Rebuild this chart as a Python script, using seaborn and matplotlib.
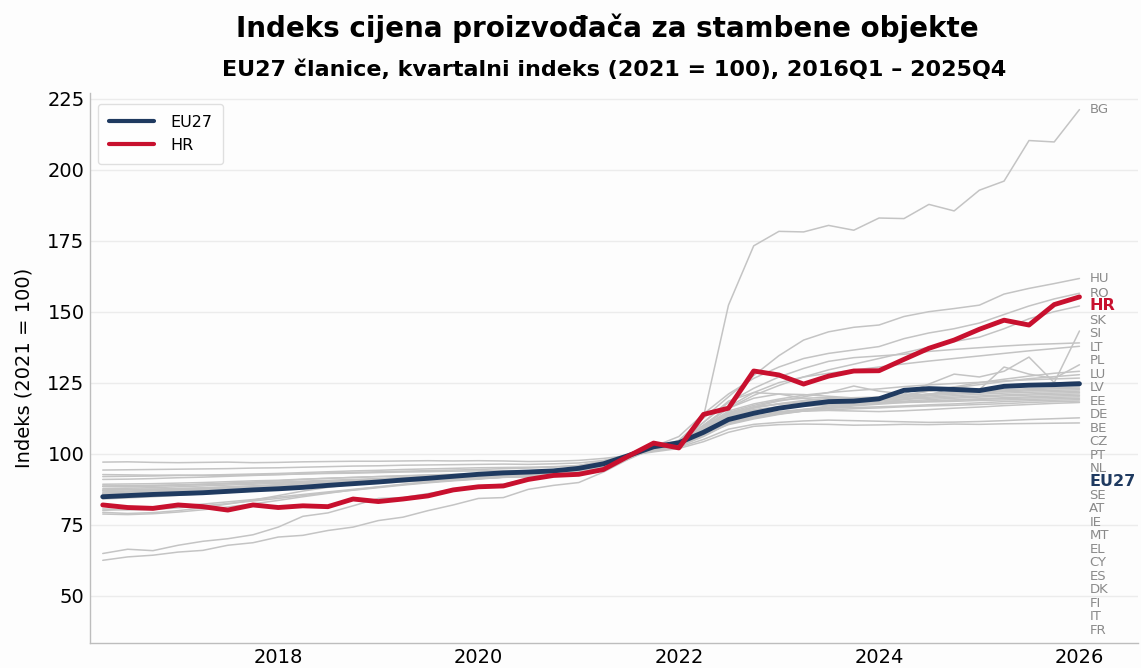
import numpy as np
import pandas as pd
import matplotlib
matplotlib.use("Agg")
import matplotlib.pyplot as plt
import matplotlib.dates as mdates
import seaborn as sns

# kvartali 2016Q1 - 2025Q4
quarters = pd.period_range("2016Q1", "2025Q4", freq="Q")

eu27 = [84.8, 85.2, 85.6, 85.9, 86.2, 86.7, 87.2, 87.6, 88.1, 88.8, 89.4, 90.0, 90.7, 91.3, 92.0, 92.7, 93.2, 93.5, 93.9, 94.8,
        96.4, 99.3, 102.4, 103.8, 107.5, 112.0, 114.2, 116.0, 117.2, 118.3, 118.5, 119.3, 122.3, 122.9, 122.6, 122.2, 123.7, 124.1, 124.3, 124.6]
hr = [81.9, 81.0, 80.7, 81.9, 81.3, 80.1, 81.9, 81.0, 81.6, 81.3, 84.0, 83.1, 84.0, 85.1, 87.2, 88.3, 88.6, 90.9, 92.3, 92.7,
      94.4, 99.1, 103.7, 102.0, 113.8, 116.0, 129.1, 127.7, 124.5, 127.3, 129.1, 129.2, 133.2, 137.1, 140.0, 143.8, 147.0, 145.3, 152.5, 155.2]

bg = [86.0, 86.2, 86.5, 86.7, 87.0, 87.3, 87.6, 88.0, 88.4, 88.8, 89.2, 89.6, 90.0, 90.4, 90.8, 91.2, 91.6, 92.0, 92.6, 93.6,
      95.8, 98.7, 101.6, 103.9, 113.0, 152.3, 173.2, 178.3, 178.1, 180.4, 178.7, 183.0, 182.8, 187.8, 185.5, 192.8, 196.0, 210.3, 209.8, 221.2]
hu = [64.8, 66.3, 65.8, 67.7, 69.1, 70.0, 71.4, 74.1, 77.9, 79.1, 81.6, 84.2, 84.5, 85.9, 87.4, 88.6, 89.2, 91.2, 92.7, 94.5,
      95.5, 98.0, 101.8, 104.7, 112.5, 120.0, 127.5, 134.5, 140.0, 142.9, 144.5, 145.3, 148.3, 150.0, 151.1, 152.3, 156.2, 158.2, 159.9, 161.7]
ro = [62.4, 63.6, 64.2, 65.3, 65.9, 67.7, 68.6, 70.6, 71.2, 72.9, 74.1, 76.4, 77.6, 79.9, 81.9, 84.2, 84.5, 87.4, 88.8, 89.8,
      93.5, 98.0, 102.5, 106.0, 114.0, 121.0, 126.5, 130.5, 133.5, 135.3, 136.5, 137.7, 140.5, 142.5, 144.0, 146.0, 149.0, 152.0, 154.5, 156.5]
sk = [87.0, 87.2, 87.4, 87.6, 87.9, 88.2, 88.5, 88.9, 89.3, 89.7, 90.1, 90.5, 90.9, 91.3, 91.7, 92.1, 92.4, 92.6, 93.0, 94.0,
      95.7, 98.7, 101.8, 103.8, 110.0, 116.0, 120.5, 124.0, 127.0, 129.5, 131.5, 133.5, 135.5, 137.5, 139.5, 141.0, 144.0, 147.5, 150.0, 152.0]
si = [88.4, 88.5, 88.7, 88.9, 89.1, 89.4, 89.7, 90.0, 90.3, 90.6, 90.9, 91.2, 91.5, 91.8, 92.1, 92.4, 92.6, 92.2, 92.9, 94.0,
      96.0, 98.8, 101.6, 103.6, 108.2, 113.5, 116.5, 118.5, 120.0, 121.5, 123.8, 122.0, 121.0, 124.5, 128.0, 127.0, 129.0, 134.0, 125.0, 143.2]
lt = [78.7, 78.5, 78.8, 79.4, 80.2, 81.2, 82.3, 83.5, 84.8, 86.0, 87.2, 88.2, 89.1, 89.9, 90.6, 91.2, 91.7, 92.0, 92.6, 93.6,
      95.0, 98.6, 102.0, 104.4, 111.0, 118.0, 123.0, 127.0, 130.0, 132.5, 133.8, 134.4, 135.0, 136.0, 136.7, 137.3, 137.9, 138.4, 138.7, 139.0]
pl = [85.1, 85.3, 85.5, 85.8, 86.2, 86.7, 87.3, 88.0, 88.8, 89.5, 90.2, 90.8, 91.3, 91.7, 92.0, 92.3, 92.5, 92.7, 93.0, 93.8,
      95.6, 98.5, 101.7, 104.2, 110.0, 116.5, 121.5, 125.0, 127.0, 128.3, 129.4, 130.5, 131.6, 132.6, 133.5, 134.4, 135.3, 136.2, 137.0, 137.8]
lu = [86.0, 86.4, 86.8, 87.2, 87.6, 88.0, 88.4, 88.8, 89.2, 89.6, 90.0, 90.4, 90.8, 91.2, 91.6, 92.0, 92.4, 92.8, 93.4, 94.4,
      96.2, 98.8, 101.6, 103.4, 107.5, 111.0, 113.0, 114.0, 115.0, 116.0, 117.0, 118.0, 119.0, 120.5, 123.5, 122.5, 130.5, 128.0, 126.5, 131.3]
lv = [79.3, 78.9, 79.2, 79.9, 80.9, 82.2, 83.6, 85.2, 86.8, 88.1, 89.2, 90.0, 90.5, 90.9, 91.2, 91.6, 92.0, 92.3, 92.8, 93.6,
      95.2, 98.8, 102.2, 103.8, 111.0, 118.5, 121.5, 121.0, 119.5, 118.0, 117.4, 118.5, 120.4, 122.1, 123.5, 125.0, 126.2, 127.3, 128.3, 129.0]
ee = [80.0, 80.3, 80.8, 81.5, 82.2, 83.0, 83.8, 84.7, 85.6, 86.5, 87.4, 88.3, 89.2, 90.0, 90.6, 91.2, 91.7, 92.0, 92.4, 93.3,
      95.4, 98.9, 102.0, 103.7, 109.8, 116.0, 119.5, 121.0, 120.8, 120.2, 119.6, 119.6, 120.7, 122.0, 123.2, 124.3, 125.4, 126.4, 127.1, 127.8]
de = [84.5, 84.9, 85.3, 85.7, 86.2, 86.7, 87.2, 87.8, 88.4, 89.1, 89.8, 90.4, 91.1, 91.7, 92.2, 92.7, 93.2, 93.6, 92.4, 93.2,
      95.5, 98.6, 101.9, 104.0, 109.5, 115.0, 117.5, 119.2, 120.6, 121.5, 122.2, 122.8, 123.6, 124.2, 124.7, 125.1, 125.6, 126.0, 126.3, 126.6]
be = [87.6, 87.8, 88.0, 88.3, 88.6, 88.9, 89.2, 89.5, 89.8, 90.1, 90.5, 90.8, 91.1, 91.4, 91.7, 92.0, 92.2, 91.6, 92.5, 93.7,
      95.8, 98.8, 101.8, 103.6, 109.0, 114.5, 117.0, 118.8, 119.5, 119.8, 119.2, 119.0, 119.8, 121.0, 121.8, 122.5, 123.2, 124.0, 124.8, 125.3]
cz = [80.5, 80.2, 80.3, 80.9, 81.6, 82.4, 83.3, 84.2, 85.2, 86.2, 87.1, 88.0, 88.9, 89.7, 90.4, 91.0, 91.7, 92.2, 92.9, 93.9,
      95.6, 98.7, 101.8, 103.9, 108.8, 114.0, 116.3, 117.5, 118.3, 118.8, 119.3, 119.8, 120.5, 121.0, 121.6, 122.0, 122.5, 122.9, 123.2, 123.5]
pt = [87.2, 87.4, 87.5, 87.7, 87.9, 88.2, 88.5, 88.8, 89.2, 89.6, 90.0, 90.3, 90.6, 90.9, 91.2, 91.5, 91.8, 92.0, 92.5, 93.6,
      95.8, 98.8, 102.0, 103.4, 108.5, 113.5, 116.0, 117.6, 118.7, 119.4, 119.7, 119.9, 120.3, 120.8, 121.3, 121.7, 122.1, 122.5, 122.8, 123.0]
nl = [84.0, 84.4, 84.8, 85.3, 85.8, 86.3, 86.8, 87.4, 88.0, 88.6, 89.2, 89.8, 90.4, 91.0, 91.6, 92.2, 92.8, 93.2, 93.6, 94.5,
      96.5, 98.9, 101.2, 103.4, 108.0, 112.6, 115.0, 116.4, 117.4, 118.1, 118.6, 119.2, 119.8, 120.4, 120.9, 121.4, 121.8, 122.1, 122.3, 122.5]
se = [85.5, 85.9, 86.3, 86.8, 87.3, 87.8, 88.3, 88.8, 89.3, 89.8, 90.3, 90.8, 91.3, 91.8, 92.3, 92.8, 93.3, 93.8, 94.3, 95.0,
      96.6, 99.1, 101.3, 103.0, 106.5, 110.5, 112.5, 114.0, 115.5, 116.8, 117.8, 118.6, 119.3, 119.9, 120.4, 120.9, 121.3, 121.6, 121.8, 122.0]
at = [86.5, 86.8, 87.1, 87.4, 87.8, 88.2, 88.6, 89.0, 89.5, 90.0, 90.5, 91.0, 91.5, 92.0, 92.4, 92.8, 93.1, 93.4, 93.9, 94.6,
      95.8, 98.6, 101.8, 103.8, 109.5, 114.2, 116.4, 117.4, 118.0, 118.3, 118.6, 118.8, 119.1, 119.5, 119.9, 120.3, 120.7, 121.0, 121.3, 121.5]
ie = [86.0, 86.3, 86.6, 86.9, 87.3, 87.7, 88.1, 88.6, 89.1, 89.6, 90.1, 90.5, 91.0, 91.4, 91.8, 92.2, 92.5, 92.3, 92.7, 93.8,
      95.9, 98.9, 101.7, 103.5, 107.8, 111.5, 113.2, 114.4, 115.5, 116.4, 117.3, 117.9, 118.5, 119.0, 119.5, 119.9, 120.3, 120.6, 120.8, 121.0]
mt = [88.6, 88.7, 88.8, 89.0, 89.2, 89.4, 89.6, 89.8, 90.0, 90.2, 90.5, 90.7, 91.0, 91.3, 91.6, 91.9, 92.2, 92.5, 92.9, 93.7,
      96.3, 99.1, 101.6, 103.0, 106.8, 110.2, 112.2, 113.8, 115.0, 116.0, 116.8, 117.4, 118.0, 118.5, 118.9, 119.3, 119.7, 120.0, 120.3, 120.5]
el = [92.6, 92.5, 92.4, 92.4, 92.3, 92.4, 92.5, 92.6, 92.8, 93.0, 93.1, 93.3, 93.5, 93.6, 93.8, 93.9, 94.0, 94.0, 94.3, 94.9,
      96.5, 98.8, 101.3, 103.4, 108.7, 113.0, 115.2, 116.0, 116.7, 117.1, 117.4, 117.8, 118.2, 118.5, 118.8, 119.1, 119.4, 119.6, 119.8, 120.0]
cy = [89.2, 89.3, 89.4, 89.6, 89.8, 90.1, 90.4, 90.6, 91.0, 91.3, 91.6, 91.9, 92.2, 92.5, 92.7, 92.9, 93.1, 93.3, 93.6, 94.4,
      96.4, 99.0, 101.3, 103.3, 108.2, 113.5, 115.5, 116.5, 117.0, 117.4, 117.6, 117.8, 118.0, 118.2, 118.4, 118.7, 118.9, 119.1, 119.3, 119.5]
es = [88.4, 88.3, 88.5, 88.8, 89.2, 89.6, 90.0, 90.4, 90.9, 91.3, 91.6, 91.9, 92.1, 92.3, 92.4, 92.6, 92.9, 92.5, 93.0, 94.2,
      96.6, 99.0, 101.3, 103.1, 107.5, 112.0, 114.0, 114.8, 115.6, 116.0, 116.2, 116.5, 116.8, 117.2, 117.5, 117.9, 118.3, 118.6, 118.8, 119.0]
dk = [90.9, 91.0, 91.2, 91.5, 91.7, 92.0, 92.3, 92.6, 92.9, 93.2, 93.4, 93.6, 93.8, 94.0, 94.2, 94.4, 94.7, 94.9, 95.2, 95.8,
      97.4, 99.1, 101.0, 102.5, 106.5, 110.8, 113.0, 114.5, 115.0, 115.4, 115.8, 116.1, 116.5, 116.8, 117.0, 117.3, 117.6, 118.0, 118.3, 118.5]
fi = [91.9, 92.0, 92.1, 92.3, 92.4, 92.6, 92.8, 93.0, 93.3, 93.6, 93.9, 94.1, 94.4, 94.6, 94.8, 95.0, 95.1, 95.2, 95.4, 95.8,
      97.2, 99.2, 101.1, 102.5, 106.0, 110.5, 113.0, 114.3, 115.0, 115.2, 115.0, 114.8, 115.1, 115.5, 116.0, 116.4, 116.9, 117.3, 117.7, 118.0]
it = [94.2, 94.3, 94.4, 94.5, 94.6, 94.7, 94.9, 95.0, 95.2, 95.4, 95.6, 95.7, 95.9, 96.0, 96.1, 96.2, 96.3, 96.2, 96.4, 96.7,
      97.6, 99.3, 100.9, 102.2, 105.0, 108.6, 110.3, 111.0, 111.5, 111.8, 111.6, 111.4, 111.2, 111.0, 111.1, 111.3, 111.6, 112.0, 112.3, 112.6]
fr = [97.0, 97.1, 96.9, 96.8, 96.9, 97.0, 96.8, 96.9, 97.1, 97.2, 97.3, 97.3, 97.4, 97.5, 97.4, 97.5, 97.4, 97.2, 97.3, 97.6,
      98.3, 99.3, 100.6, 101.8, 104.2, 107.5, 109.6, 110.2, 110.4, 110.3, 110.0, 110.1, 110.3, 110.2, 110.4, 110.3, 110.5, 110.6, 110.7, 110.8]

others = {"BG": bg, "HU": hu, "RO": ro, "SK": sk, "SI": si, "LT": lt, "PL": pl, "LU": lu, "LV": lv,
          "EE": ee, "DE": de, "BE": be, "CZ": cz, "PT": pt, "NL": nl, "SE": se, "AT": at, "IE": ie,
          "MT": mt, "EL": el, "CY": cy, "ES": es, "DK": dk, "FI": fi, "IT": it, "FR": fr}

# redoslijed oznaka s desne strane
label_order = ["BG", "HU", "RO", "HR", "SK", "SI", "LT", "PL", "LU", "LV", "EE", "DE", "BE", "CZ",
               "PT", "NL", "EU27", "SE", "AT", "IE", "MT", "EL", "CY", "ES", "DK", "FI", "IT", "FR"]

NAVY = "#1f3a60"
RED = "#c8102e"
GREY = "#c4c4c4"

dates = quarters.to_timestamp(how="end").normalize()
rows = []
for geo, vals in others.items():
    rows.append(pd.DataFrame({"date": dates, "value": vals, "geo": geo}))
grey_df = pd.concat(rows, ignore_index=True)
main_df = pd.concat([pd.DataFrame({"date": dates, "value": eu27, "geo": "EU27"}),
                     pd.DataFrame({"date": dates, "value": hr, "geo": "HR"})], ignore_index=True)

sns.set_theme(style="whitegrid")
plt.rcParams["font.family"] = ["DejaVu Sans"]
plt.rcParams["text.color"] = "black"
plt.rcParams["axes.labelcolor"] = "black"
plt.rcParams["xtick.color"] = "black"
plt.rcParams["ytick.color"] = "black"

fig = plt.figure(figsize=(11.41, 6.68), dpi=100, facecolor="#fdfdfd")
ax = fig.add_axes([0.079, 0.038, 0.918, 0.823])
ax.set_facecolor("#fdfdfd")

sns.lineplot(data=grey_df, x="date", y="value", units="geo", estimator=None,
             color=GREY, linewidth=1.1, ax=ax, legend=False)
sns.lineplot(data=main_df, x="date", y="value", hue="geo", palette={"EU27": NAVY, "HR": RED},
             linewidth=3.5, ax=ax)

ax.set_ylim(33.4, 227.1)
ax.set_xlim(pd.Timestamp("2016-02-14"), pd.Timestamp("2026-07-31"))
ax.set_yticks([50, 75, 100, 125, 150, 175, 200, 225])
ax.xaxis.set_major_locator(mdates.YearLocator(2))
ax.xaxis.set_major_formatter(mdates.DateFormatter("%Y"))
ax.tick_params(axis="both", labelsize=14, length=0, pad=4, colors="black")
ax.grid(axis="x", visible=False)
ax.grid(axis="y", color="#ececec", linewidth=1)
for s in ["top", "right"]:
    ax.spines[s].set_visible(False)
for s in ["left", "bottom"]:
    ax.spines[s].set_color("#bdbdbd")
    ax.spines[s].set_linewidth(1)
ax.set_xlabel("")
ax.set_ylabel("Indeks (2021 = 100)", fontsize=14, labelpad=10, color="black")

# oznake na kraju linija, razmaknute da se ne preklapaju
end_vals = {geo: vals[-1] for geo, vals in others.items()}
end_vals["EU27"] = eu27[-1]
end_vals["HR"] = hr[-1]
gap = 4.75
prev = np.inf
label_x = dates[-1] + pd.Timedelta(days=36)
for geo in label_order:
    y = min(end_vals[geo], prev - gap)
    prev = y
    if geo == "HR":
        ax.text(label_x, y + 0.3, geo, color=RED, fontsize=11.5, fontweight="bold", va="center", ha="left")
    elif geo == "EU27":
        ax.text(label_x, y, geo, color=NAVY, fontsize=11.5, fontweight="bold", va="center", ha="left")
    else:
        ax.text(label_x, y, geo, color="#8a8a8a", fontsize=9.5, va="center", ha="left")

leg = ax.legend(loc="upper left", fontsize=11.5, frameon=True, borderpad=0.7, handlelength=2.8,
                handletextpad=1.0, labelspacing=0.5, bbox_to_anchor=(0.0, 0.995))
leg.set_title(None)
for line in leg.get_lines():
    line.set_linewidth(3)
leg.get_frame().set_edgecolor("#d8d8d8")
leg.get_frame().set_facecolor("white")

fig.text(0.532, 0.958, "Indeks cijena proizvođača za stambene objekte", ha="center", va="center",
         fontsize=20, fontweight="bold", color="black")
fig.text(0.538, 0.895, "EU27 članice, kvartalni indeks (2021 = 100), 2016Q1 – 2025Q4", ha="center", va="center",
         fontsize=16, fontweight="bold", color="black")

fig.savefig("out.png", dpi=100, facecolor=fig.get_facecolor())
